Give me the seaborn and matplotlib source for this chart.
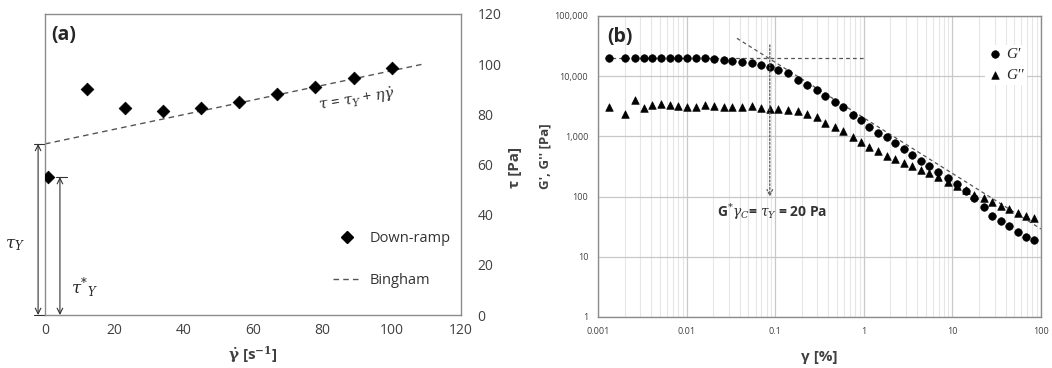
import numpy as np
import pandas as pd
import matplotlib
matplotlib.use("Agg")
import matplotlib.pyplot as plt
import seaborn as sns
from matplotlib.lines import Line2D
from matplotlib.ticker import FixedLocator, FixedFormatter, LogLocator, NullFormatter

# ---- panel (a): down-ramp flow curve ----
down_shear = [1, 12, 23, 34, 45, 56, 67, 78, 89, 100]
down_stress = [55, 90, 82.5, 81.5, 82.5, 85, 88, 91, 94.5, 98.5]
bingham_x = [0, 109]
bingham_y = [68.2, 100]
tau_y = 68.2
tau_y_star = 55

# ---- panel (b): amplitude sweep ----
strain = [0.00134, 0.00204, 0.00259, 0.00329, 0.0041, 0.00516, 0.00643, 0.0080,
          0.0102, 0.0128, 0.0163, 0.0204, 0.0262, 0.0329, 0.0418, 0.0544,
          0.069, 0.0869, 0.109, 0.141, 0.182, 0.229, 0.293, 0.369,
          0.468, 0.589, 0.748, 0.924, 1.15, 1.46, 1.81, 2.25,
          2.83, 3.50, 4.40, 5.49, 6.96, 8.84, 11.3, 14.1,
          17.6, 22.5, 28.1, 35.3, 43.6, 54.9, 67.8, 83.8]
g_storage = [20400, 20400, 19900, 19900, 19900, 20200, 20200, 20200,
             20200, 20200, 19900, 19400, 18700, 18200, 17500, 16600,
             15200, 14100, 12600, 11100, 8800, 7200, 5900, 4700,
             3760, 3030, 2290, 1890, 1450, 1120, 960, 780,
             617, 497, 395, 322, 260, 200, 160, 125,
             95, 67, 48.4, 40, 32.2, 26.3, 21.7, 18.7]
g_loss = [3100, 2350, 4000, 2950, 3300, 3390, 3300, 3180,
          3100, 3030, 3260, 3180, 3100, 3030, 3030, 3180,
          2950, 2800, 2800, 2730, 2660, 2350, 2060, 1660,
          1450, 1210, 990, 816, 675, 564, 472, 425,
          366, 322, 277, 244, 209, 177, 152, 129,
          108, 96, 80.5, 71, 62.5, 53.6, 48.4, 44]
plateau_x = [0.0012, 1.0]
plateau_y = [20300, 20300]
slope_x = [0.037, 100]
slope_y = [42600, 29]
arrow_x = 0.087
arrow_y = [33000, 100]

xticks_b = [0.001, 0.01, 0.1, 1, 10, 100]
xlabels_b = ["0.001", "0.01", "0.1", "1", "10", "100"]
yticks_b = [1, 10, 100, 1000, 10000, 100000]
ylabels_b = ["1", "10", "100", "1,000", "10,000", "100,000"]

sns.set_style("white")
plt.rcParams['font.family'] = ['Open Sans', 'DejaVu Sans']
plt.rcParams['mathtext.fontset'] = 'dejavuserif'

tick_col = '#404040'
spine_col = '#8c8c8c'

fig = plt.figure(figsize=(10.52, 3.68), dpi=100)
ax1 = fig.add_axes([0.0428, 0.144, 0.3954, 0.818])
ax2 = fig.add_axes([0.5684, 0.1386, 0.4211, 0.818])

# ---------------- (a) ----------------
df_a = pd.DataFrame({'shear': down_shear, 'stress': down_stress})
sns.scatterplot(data=df_a, x='shear', y='stress', marker='D', s=42,
                color='black', edgecolor='black', ax=ax1, zorder=3)
sns.lineplot(x=bingham_x, y=bingham_y, ax=ax1, color='#555555',
             linestyle=(0, (4, 3)), linewidth=1.0)
ax1.set_xlim(0, 120)
ax1.set_ylim(0, 120)
ax1.set_xticks(np.arange(0, 121, 20))
ax1.set_yticks(np.arange(0, 121, 20))
ax1.yaxis.tick_right()
ax1.yaxis.set_label_position('right')
ax1.tick_params(axis='x', direction='in', length=4, color=spine_col,
                labelsize=10, labelcolor=tick_col, pad=6)
ax1.tick_params(axis='y', length=0, labelsize=10, labelcolor=tick_col, pad=12)
for sp in ax1.spines.values():
    sp.set_color(spine_col)
    sp.set_linewidth(1.0)
ax1.set_xlabel(r"$\mathbf{\dot{\gamma}}$ [s$^{\mathbf{-1}}$]", fontsize=11,
               fontweight='bold', color=tick_col, labelpad=4)
ax1.set_ylabel("τ [Pa]", fontsize=11, fontweight='bold', color=tick_col)
ax1.yaxis.set_label_coords(1.113, 0.49)
ax1.text(0.016, 0.93, "(a)", transform=ax1.transAxes, fontsize=14,
         fontweight='bold', va='center', ha='left')
ax1.text(90.0, 86, r"$\tau$ = $\tau_Y$ + $\eta\dot{\gamma}$", rotation=9,
         fontsize=11, color='#333333', ha='center', va='center')

# yield stress arrows (outside the left spine)
arr = dict(arrowstyle='<->', color='#333333', lw=0.8, shrinkA=0, shrinkB=0)
ax1.annotate('', xy=(-2.0, 0), xytext=(-2.0, tau_y), arrowprops=arr,
             annotation_clip=False)
ax1.plot([-3.2, 0], [tau_y, tau_y], color='#333333', lw=0.8, clip_on=False)
ax1.plot([-3.2, 0], [0, 0], color='#333333', lw=0.8, clip_on=False)
ax1.annotate('', xy=(4.3, 0), xytext=(4.3, tau_y_star), arrowprops=arr,
             annotation_clip=False)
ax1.plot([3.3, 6.3], [tau_y_star, tau_y_star], color='#333333', lw=0.8)
ax1.text(-8.8, 28, r"$\tau_Y$", fontsize=12, ha='center', va='center',
         clip_on=False)
ax1.text(11.5, 11, r"$\tau^{*}{}_{Y}$", fontsize=12, ha='center', va='center')

handles_a = [Line2D([], [], marker='D', color='black', linestyle='none',
                    markersize=6.5),
             Line2D([], [], color='#555555', linestyle=(0, (4, 3)), lw=1.0)]
ax1.legend(handles_a, ['Down-ramp', 'Bingham'], loc='lower left',
           bbox_to_anchor=(0.66, 0.045), frameon=False, fontsize=10.5,
           labelspacing=1.9, handlelength=2.0, handletextpad=0.5,
           labelcolor='#333333')

# ---------------- (b) ----------------
df_b = pd.DataFrame({'strain': strain, 'G1': g_storage, 'G2': g_loss})
ax2.set_xscale('log')
ax2.set_yscale('log')
sns.scatterplot(data=df_b, x='strain', y='G1', marker='o', s=30,
                color='black', edgecolor='black', ax=ax2, zorder=3,
                label="G'")
sns.scatterplot(data=df_b, x='strain', y='G2', marker='^', s=30,
                color='black', edgecolor='black', ax=ax2, zorder=3,
                label="G''")
ax2.plot(plateau_x, plateau_y, color='#555555', linestyle=(0, (3, 2.5)), lw=0.9)
ax2.plot(slope_x, slope_y, color='#555555', linestyle=(0, (3, 2.5)), lw=0.9)
ax2.annotate('', xy=(arrow_x, arrow_y[1]), xytext=(arrow_x, arrow_y[0]),
             arrowprops=dict(arrowstyle='->', color='#555555', lw=0.9,
                             linestyle=(0, (1.5, 1.5)), shrinkA=0, shrinkB=0))
ax2.text(0.092, 55, r"G$^{*}\gamma_{C}$= $\tau_Y$ = 20 Pa", fontsize=10,
         fontweight='bold', ha='center', va='center', color='#333333')
ax2.set_xlim(0.001, 100)
ax2.set_ylim(1, 100000)
ax2.xaxis.set_major_locator(FixedLocator(xticks_b))
ax2.xaxis.set_major_formatter(FixedFormatter(xlabels_b))
ax2.yaxis.set_major_locator(FixedLocator(yticks_b))
ax2.yaxis.set_major_formatter(FixedFormatter(ylabels_b))
ax2.xaxis.set_minor_locator(LogLocator(base=10, subs=np.arange(2, 10)))
ax2.xaxis.set_minor_formatter(NullFormatter())
ax2.yaxis.set_minor_formatter(NullFormatter())
ax2.grid(which='major', axis='both', color='#c8c8c8', lw=0.9)
ax2.grid(which='minor', axis='x', color='#e6e6e6', lw=0.8)
ax2.set_axisbelow(True)
ax2.tick_params(which='both', length=0, labelsize=6.5, labelcolor=tick_col,
                pad=7)
for sp in ax2.spines.values():
    sp.set_color(spine_col)
    sp.set_linewidth(1.0)
ax2.set_xlabel("γ [%]", fontsize=11, fontweight='bold', color=tick_col,
               labelpad=10)
ax2.set_ylabel("G', G'' [Pa]", fontsize=9.5, fontweight='bold',
               color=tick_col)
ax2.yaxis.set_label_coords(-0.104, 0.535)
ax2.text(0.022, 0.93, "(b)", transform=ax2.transAxes, fontsize=14,
         fontweight='bold', va='center', ha='left')
leg = ax2.legend(loc='upper right', bbox_to_anchor=(0.985, 0.93), frameon=True,
                 fancybox=False, edgecolor='none', facecolor='white',
                 framealpha=1, handletextpad=0.2,
                 handlelength=1.0, borderpad=0.2, labelspacing=0.45,
                 prop={'style': 'italic', 'family': 'Liberation Serif',
                       'size': 11})

fig.savefig("out.png", dpi=100)
